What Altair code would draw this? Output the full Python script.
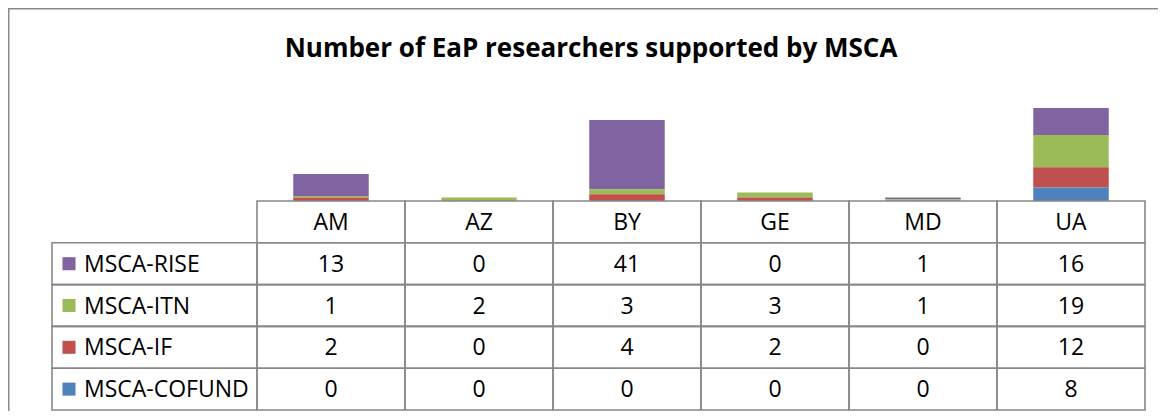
import altair as alt
import pandas as pd

# ---- data ----
countries = ["AM", "AZ", "BY", "GE", "MD", "UA"]
series = ["MSCA-RISE", "MSCA-ITN", "MSCA-IF", "MSCA-COFUND"]
rise = [13, 0, 41, 0, 1, 16]
itn = [1, 2, 3, 3, 1, 19]
if_ = [2, 0, 4, 2, 0, 12]
cofund = [0, 0, 0, 0, 0, 8]
colors = ["#8064A2", "#9BBB59", "#C0504D", "#4F81BD"]
title_text = "Number of EaP researchers supported by MSCA"

values_by_series = {"MSCA-RISE": rise, "MSCA-ITN": itn, "MSCA-IF": if_, "MSCA-COFUND": cofund}
stack_order = {"MSCA-COFUND": 0, "MSCA-IF": 1, "MSCA-ITN": 2, "MSCA-RISE": 3}

rows = []
for s in series:
    for c, v in zip(countries, values_by_series[s]):
        rows.append({"country": c, "series": s, "value": v, "ord": stack_order[s], "row": s, "label": str(v)})
df = pd.DataFrame(rows)

header = pd.DataFrame({"country": countries, "row": ["header"] * len(countries), "label": countries})
table_text = pd.concat([header, df[["country", "row", "label"]]], ignore_index=True)
cells = table_text[["country", "row"]]
legend_df = pd.DataFrame({"row": series, "series": series})

W, H = 1150, 403
FONT = "Open Sans"
GRID = "#888888"

x_scale = alt.Scale(domain=countries, range=[249, 1137], paddingInner=0, paddingOuter=0)
row_domain = ["header"] + series
row_scale = alt.Scale(domain=row_domain, range=[193, 402], paddingInner=0, paddingOuter=0)
color_scale = alt.Scale(domain=series, range=colors)

bars = alt.Chart(df).mark_bar(width=alt.RelativeBandSize(0.51)).encode(
    x=alt.X("country:N", scale=x_scale, axis=None),
    y=alt.Y("value:Q", stack="zero", scale=alt.Scale(domain=[0, 60], range=[193, 91.6], nice=False, zero=True), axis=None),
    color=alt.Color("series:N", scale=color_scale, legend=None),
    order=alt.Order("ord:Q", sort="ascending"),
)

cell_rects = alt.Chart(cells).mark_rect(fill=None, fillOpacity=0, stroke=GRID, strokeWidth=1.6).encode(
    x=alt.X("country:N", scale=x_scale, axis=None),
    y=alt.Y("row:N", scale=row_scale, axis=None),
)

label_rects = alt.Chart(legend_df).mark_rect(fill=None, fillOpacity=0, stroke=GRID, strokeWidth=1.6).encode(
    x=alt.value(44), x2=alt.value(249),
    y=alt.Y("row:N", scale=row_scale, axis=None),
)

cell_text = alt.Chart(table_text).mark_text(font=FONT, fontSize=23, color="#000000", baseline="middle", align="center", dy=1).encode(
    x=alt.X("country:N", scale=x_scale, axis=None),
    y=alt.Y("row:N", scale=row_scale, axis=None),
    text="label:N",
)

label_text = alt.Chart(legend_df).mark_text(font=FONT, fontSize=23, color="#000000", baseline="middle", align="left", dy=1).encode(
    x=alt.value(76),
    y=alt.Y("row:N", scale=row_scale, axis=None),
    text="series:N",
)

squares = alt.Chart(legend_df).mark_point(shape="square", filled=True, size=170, opacity=1).encode(
    x=alt.value(61),
    y=alt.Y("row:N", scale=row_scale, axis=None),
    color=alt.Color("series:N", scale=color_scale, legend=None),
)

one = pd.DataFrame({"t": [title_text]})
title = alt.Chart(one).mark_text(font=FONT, fontSize=26, fontWeight="bold", color="#000000", baseline="middle", align="center").encode(
    x=alt.value(583), y=alt.value(41), text="t:N",
)
frame_top = alt.Chart(one).mark_rule(color="#8a8a8a", strokeWidth=1.5).encode(
    x=alt.value(0), x2=alt.value(W), y=alt.value(0.75),
)
frame_left = alt.Chart(one).mark_rule(color="#8a8a8a", strokeWidth=1.5).encode(
    x=alt.value(0.75), y=alt.value(0), y2=alt.value(H),
)

chart = alt.layer(
    frame_top, frame_left, title, bars, cell_rects, label_rects, cell_text, label_text, squares
).resolve_scale(y="independent").properties(
    width=W, height=H,
    autosize=alt.AutoSizeParams(type="none"),
    padding=0,
).configure_view(strokeWidth=0, strokeOpacity=0).configure(background="white")

chart.save("out.html", embed_options={"renderer": "svg", "actions": False})
